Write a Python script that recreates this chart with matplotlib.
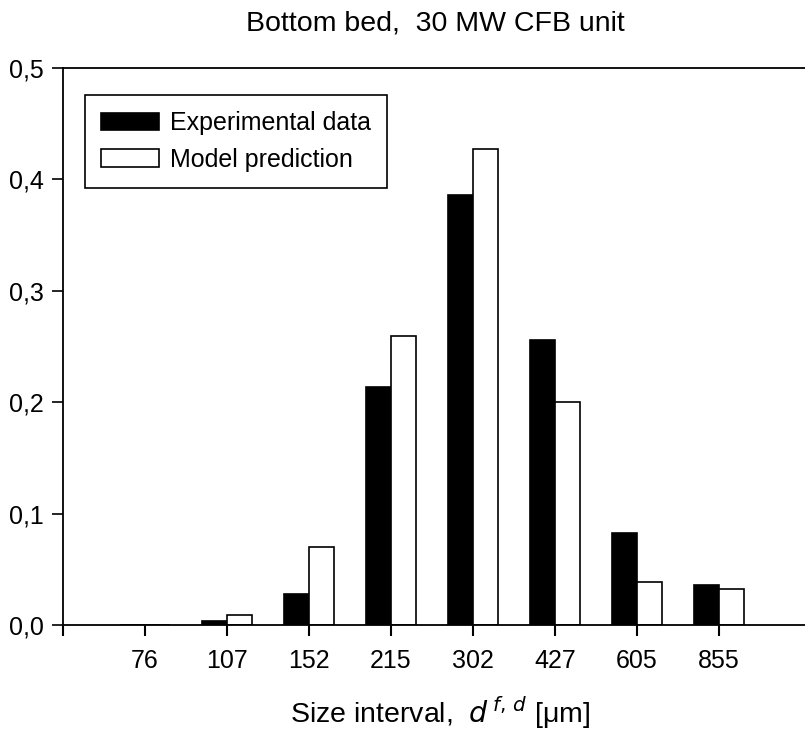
import matplotlib
matplotlib.use("Agg")
import matplotlib.pyplot as plt
import numpy as np

plt.rcParams['font.family'] = ['Liberation Sans', 'DejaVu Sans']

categories = ["76", "107", "152", "215", "302", "427", "605", "855"]
experimental = [0.0, 0.004, 0.028, 0.214, 0.386, 0.256, 0.083, 0.036]
model = [0.0, 0.009, 0.070, 0.259, 0.427, 0.200, 0.039, 0.032]
yticks = [0.0, 0.1, 0.2, 0.3, 0.4, 0.5]
ytick_labels = ["0,0", "0,1", "0,2", "0,3", "0,4", "0,5"]

fig = plt.figure(figsize=(8.05, 7.35), dpi=100)
ax = fig.add_axes([63/805, 1-625/735, 1-63/805, (625-68)/735])

x = np.arange(1, len(categories) + 1)
w = 0.305
ax.bar(x, experimental, width=-w, align='edge', color='black', edgecolor='black', linewidth=1.2, label='Experimental data')
ax.bar(x, model, width=w, align='edge', color='white', edgecolor='black', linewidth=1.2, label='Model prediction')

ax.set_xlim(0, (805-63)/82)
ax.set_ylim(0, 0.5)
ax.set_xticks(np.arange(0, len(categories) + 1))
ax.set_xticklabels([""] + categories)
ax.set_yticks(yticks)
ax.set_yticklabels(ytick_labels)
ax.tick_params(axis='x', direction='out', length=8, width=1.5, pad=9, labelsize=18)
ax.tick_params(axis='y', direction='out', length=8, width=1.2, pad=6, labelsize=18)
ax.spines['right'].set_visible(False)
for s in ['left', 'bottom', 'top']:
    ax.spines[s].set_linewidth(1.3)

fig.text(435/805, 1-23/735, "Bottom bed,  30 MW CFB unit", ha='center', va='center', fontsize=20.5)
fig.text(440/805, 1-713/735, r"Size interval,  $d^{\,f,\,d}$ [μm]", ha='center', va='center', fontsize=20.5)

leg = ax.legend(loc='upper left', bbox_to_anchor=((85-63)/742, 1-(95-68)/557), borderaxespad=0,
                fontsize=18, frameon=True, framealpha=1,
                fancybox=False, edgecolor='black', handlelength=2.3, handleheight=0.68,
                borderpad=0.65, labelspacing=0.5, handletextpad=0.45)
leg.get_frame().set_linewidth(1.2)

fig.savefig("out.png", dpi=100)
